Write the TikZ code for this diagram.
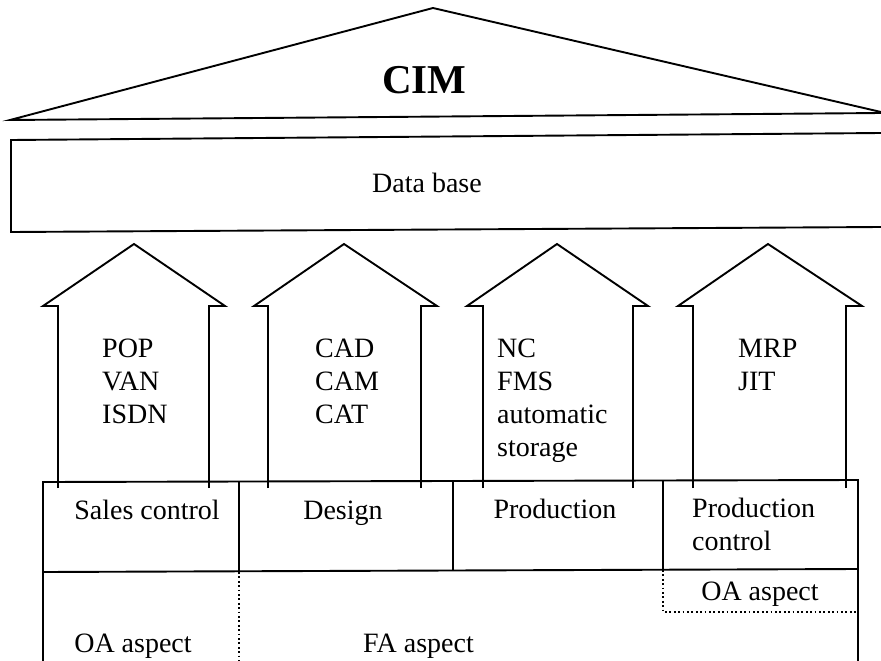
\documentclass[tikz,border=0pt]{standalone}
\usepackage{fontspec}
\setmainfont{Liberation Serif}
\begin{document}
\begin{tikzpicture}[x=1pt,y=-1pt,
  line join=miter,
  frame/.style={line width=1.9pt},
  shaft/.style={line width=2.7pt},
  headline/.style={line width=1.9pt},
  dots/.style={line width=1.7pt, dash pattern=on 1.8pt off 2.6pt},
  lbl/.style={font=\fontsize{28}{33}\selectfont, inner sep=0pt},
  title/.style={font=\fontsize{41}{45}\selectfont\bfseries, inner sep=0pt}]
\useasboundingbox (0,0) rectangle (881,661);

% roof
\draw[frame] (881,112) -- (433,8) -- (10,120) -- (881,113);
\node[title, anchor=base] (cim) at (424.5,93) {CIM};

% data base band (runs off to the right)
\draw[frame] (881,133) -- (11,140) -- (11,232) -- (881,227);
\node[lbl, anchor=base] (db) at (427,192) {Data base};

% four block arrows pointing up to the data base
\foreach \ax/\hl/\hr/\sl/\sr in {134/43/225/58/209, 344/254/437/268/421,
                                  557/467/648/483/633, 768/678/862/693/846}{
  \draw[headline] (\sl,306) -- (\hl,306) -- (\ax,244) -- (\hr,306) -- (\sr,306);
  \draw[shaft] (\sl,488) -- (\sl,305);
  \draw[shaft] (\sr,488) -- (\sr,305);
}
\node[lbl, anchor=north west, align=left] (pop) at (102,339) {POP\\VAN\\ISDN};
\node[lbl, anchor=north west, align=left] (cad) at (315,339) {CAD\\CAM\\CAT};
\node[lbl, anchor=north west, align=left] (nc) at (497,339) {NC\\FMS\\automatic\\storage};
\node[lbl, anchor=north west, align=left] (mrp) at (738,339) {MRP\\JIT};

% functions table (its bottom edge sits on the border of the page)
\draw[frame] (43,661) -- (43,482) -- (858,480) -- (858,661);
\draw[frame] (43,661.5) -- (858,661.5);
\draw[frame] (43,572) -- (858,569);
\draw[frame] (239,481) -- (239,571);
\draw[frame] (453,481) -- (453,570);
\draw[frame] (663,480) -- (663,569);
\draw[dots] (239,572) -- (239,661);
\draw[dots] (663,570) -- (663,612) -- (858,612);

\node[lbl, anchor=base] (sales) at (147,519) {Sales control};
\node[lbl, anchor=base] (design) at (343,519) {Design};
\node[lbl, anchor=base] (prod) at (555,518) {Production};
\node[lbl, anchor=north west, align=left] (pctl) at (692,498) {Production\\control};
\node[lbl, anchor=base] (oaright) at (760,600) {OA aspect};
\node[lbl, anchor=base] (oaleft) at (133,652) {OA aspect};
\node[lbl, anchor=base west] (fa) at (363,652) {FA aspect};
\end{tikzpicture}
\end{document}
